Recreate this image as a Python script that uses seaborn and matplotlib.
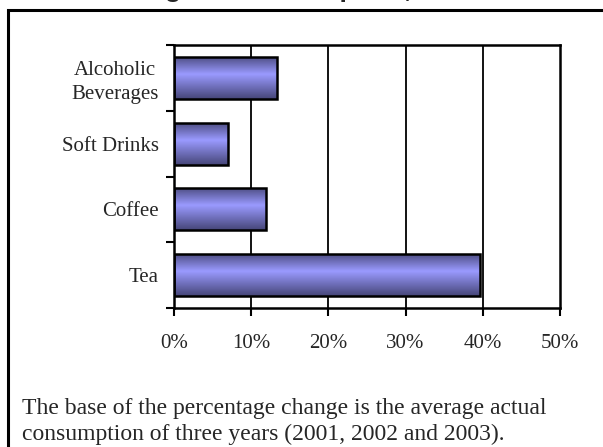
import numpy as np
import pandas as pd
import matplotlib
matplotlib.use("Agg")
import matplotlib.pyplot as plt
from matplotlib.colors import LinearSegmentedColormap
from matplotlib.patches import Rectangle
from matplotlib.ticker import FuncFormatter, MultipleLocator
import seaborn as sns

# Percentage change in consumption by beverage
categories = ["Alcoholic\nBeverages", "Soft Drinks", "Coffee", "Tea"]
pct_change = [13.4, 7.0, 11.9, 39.6]
x_ticks = [0, 10, 20, 30, 40, 50]
title = "Percent Change in Consumption, 2004"
footnote_1 = "The base of the percentage change is the average actual"
footnote_2 = "consumption of three years (2001, 2002 and 2003)."

df = pd.DataFrame({"category": categories, "change": pct_change})

sns.set_theme(style="white")
plt.rcParams["font.family"] = ["Liberation Serif", "DejaVu Serif"]

W, H = 603, 447
fig = plt.figure(figsize=(W / 100, H / 100), dpi=100)
fig.patch.set_facecolor("white")

# outer frame (left and top edges visible)
fig.patches.append(Rectangle((8 / W, -0.1), 1.2, (H - 10) / H + 0.1,
                             transform=fig.transFigure, fill=False,
                             edgecolor="black", lw=2.2, zorder=0))

ax = fig.add_axes([174 / W, 1 - 308 / H, 386 / W, 263 / H])

sns.barplot(data=df, y="category", x="change", orient="h", ax=ax,
            width=0.64, color="#9898ff", edgecolor="black", linewidth=1.8,
            order=categories)

# vertical shading on each bar: dark edges, light centre
cmap = LinearSegmentedColormap.from_list(
    "bar_shade", [(0.0, "#4a4a7e"), (0.42, "#9a9aff"), (1.0, "#464678")])
grad = np.linspace(0, 1, 256).reshape(-1, 1)
for p in list(ax.patches):
    x0, y0 = p.get_x(), p.get_y()
    w, h = p.get_width(), p.get_height()
    im = ax.imshow(grad, cmap=cmap, aspect="auto",
                   extent=(x0, x0 + w, y0 + h, y0), zorder=2,
                   interpolation="bilinear")
    im.set_clip_path(p)
    p.set_facecolor("none")
    p.set_zorder(3)

ax.set_xlim(0, 50)
ax.set_ylim(3.5, -0.5)
ax.set_xticks(x_ticks)
ax.xaxis.set_major_formatter(FuncFormatter(lambda v, _: f"{v:.0f}%"))
for v in x_ticks[1:-1]:
    ax.axvline(v, color="black", lw=1.3, zorder=1)

ax.set_xlabel("")
ax.set_ylabel("")
ax.yaxis.set_minor_locator(MultipleLocator(1, offset=0.5))
ax.tick_params(axis="y", which="major", length=0, pad=11, labelsize=15)
ax.tick_params(axis="y", which="minor", left=True, length=6, width=1.5,
               direction="out", color="black")
ax.tick_params(axis="x", which="major", bottom=True, length=6, width=1.5,
               direction="out", color="black", pad=13, labelsize=15)
for lbl in ax.get_yticklabels():
    lbl.set_multialignment("center")
    lbl.set_linespacing(1.3)

for s in ax.spines.values():
    s.set_visible(True)
    s.set_color("black")
    s.set_linewidth(1.8)

# heading sits mostly above the top edge of the page
title_font = dict(family=["Liberation Sans", "DejaVu Sans"],
                  fontweight="bold", fontsize=19)
renderer = fig.canvas.get_renderer()
probe = fig.text(0, 0, "Percent Chan", **title_font)
prefix_w = probe.get_window_extent(renderer).width
probe.remove()
fig.text((165 - prefix_w) / W, 1 + 2.5 / H, title, ha="left", va="baseline",
         **title_font)

fig.text(22 / W, 1 - 414 / H, footnote_1, ha="left", va="baseline",
         fontsize=17)
fig.text(22 / W, 1 - 440 / H, footnote_2, ha="left", va="baseline",
         fontsize=17)

fig.savefig("out.png", dpi=100, facecolor="white")
